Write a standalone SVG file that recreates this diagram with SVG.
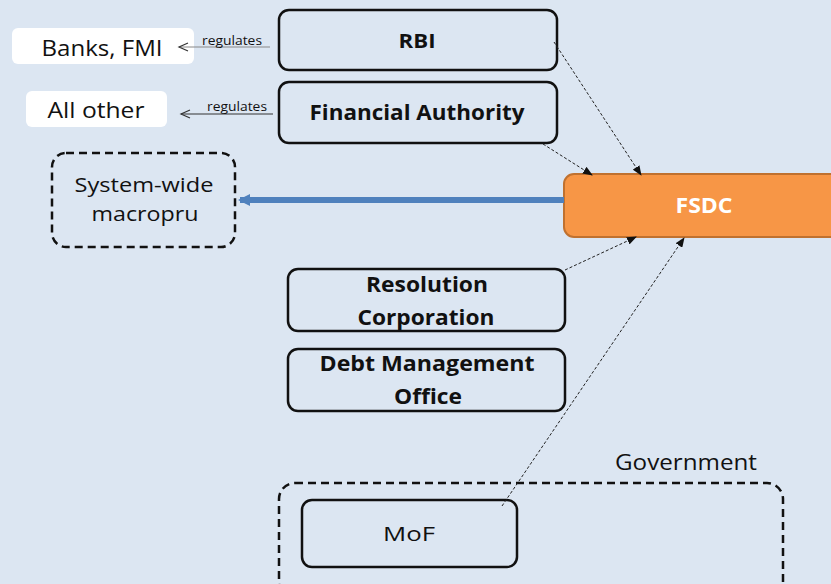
<svg xmlns="http://www.w3.org/2000/svg" width="831" height="584" viewBox="0 0 831 584">
<defs>
<style>
.t{font-family:"Open Sans","Liberation Sans",sans-serif;fill:#111;text-anchor:middle}
.b{font-weight:bold}
.box{fill:none;stroke:#111;stroke-width:2.5}
.dash{fill:none;stroke:#111;stroke-width:2.5;stroke-dasharray:8 5}
.lbl{fill:#fff}
.dl{fill:none;stroke:#222;stroke-width:1;stroke-dasharray:3 2}
</style>
<marker id="ah" markerWidth="10" markerHeight="8" refX="9" refY="4" orient="auto" markerUnits="userSpaceOnUse">
<path d="M0,0 L10,4 L0,8 Z" fill="#111"/>
</marker>
<marker id="open" markerWidth="12" markerHeight="10" refX="10" refY="5" orient="auto" markerUnits="userSpaceOnUse">
<path d="M1,1 L10,5 L1,9" fill="none" stroke="#333" stroke-width="1.2"/>
</marker>
<marker id="blue" markerWidth="14" markerHeight="14" refX="10" refY="7" orient="auto" markerUnits="userSpaceOnUse">
<path d="M0,1 L12,7 L0,13 Z" fill="#4f81bd"/>
</marker>
</defs>
<rect width="831" height="584" fill="#dce6f2"/>

<g id="banks">
<rect x="12" y="28" width="182" height="36" rx="6" class="lbl"/>
<text x="102" y="56" class="t" font-size="21" textLength="121" lengthAdjust="spacingAndGlyphs">Banks, FMI</text>
</g>
<g id="allother">
<rect x="26" y="91" width="141" height="36" rx="6" class="lbl"/>
<text x="96" y="118" class="t" font-size="21" textLength="97" lengthAdjust="spacingAndGlyphs">All other</text>
</g>
<g id="rbi">
<rect x="279" y="10" width="278" height="60" rx="10" class="box"/>
<text x="417" y="48" class="t b" font-size="20" textLength="37" lengthAdjust="spacingAndGlyphs">RBI</text>
</g>
<g id="fa">
<rect x="279" y="82" width="278" height="61" rx="10" class="box"/>
<text x="417" y="120" class="t b" font-size="21" textLength="215" lengthAdjust="spacingAndGlyphs">Financial Authority</text>
</g>
<g id="macropru">
<rect x="52" y="153" width="183" height="94" rx="14" fill="#fff" class="dash"/>
<text x="144" y="192" class="t" font-size="20" textLength="139" lengthAdjust="spacingAndGlyphs">System-wide</text>
<text x="145" y="221" class="t" font-size="20" textLength="107" lengthAdjust="spacingAndGlyphs">macropru</text>
</g>
<g id="fsdc">
<rect x="564" y="174" width="280" height="63" rx="10" fill="#f79646" stroke="#c0712f" stroke-width="2"/>
<text x="704" y="213" class="t b" font-size="21" style="fill:#fff" textLength="57" lengthAdjust="spacingAndGlyphs">FSDC</text>
</g>
<g id="resolution">
<rect x="288" y="269" width="277" height="62" rx="10" class="box"/>
<text x="427" y="292" class="t b" font-size="21" textLength="122" lengthAdjust="spacingAndGlyphs">Resolution</text>
<text x="426" y="325" class="t b" font-size="21" textLength="137" lengthAdjust="spacingAndGlyphs">Corporation</text>
</g>
<g id="dmo">
<rect x="288" y="349" width="277" height="62" rx="10" class="box"/>
<text x="427" y="371" class="t b" font-size="21" textLength="215" lengthAdjust="spacingAndGlyphs">Debt Management</text>
<text x="428" y="404" class="t b" font-size="21" textLength="68" lengthAdjust="spacingAndGlyphs">Office</text>
</g>
<g id="government">
<text x="686" y="470" class="t" font-size="21" textLength="142" lengthAdjust="spacingAndGlyphs">Government</text>
<rect x="279" y="483" width="504" height="115" rx="16" class="dash"/>
</g>
<g id="mof">
<rect x="302" y="500" width="215" height="67" rx="10" class="box"/>
<text x="409" y="541" class="t" font-size="20" textLength="52" lengthAdjust="spacingAndGlyphs">MoF</text>
</g>

<g id="connectors">
<line x1="270" y1="47" x2="179" y2="47" stroke="#888" stroke-width="1" marker-end="url(#open)"/>
<text x="232" y="45" class="t" font-size="12" textLength="60" lengthAdjust="spacingAndGlyphs">regulates</text>
<line x1="273" y1="114" x2="181" y2="114" stroke="#333" stroke-width="1" marker-end="url(#open)"/>
<text x="237" y="111" class="t" font-size="12" textLength="60" lengthAdjust="spacingAndGlyphs">regulates</text>
<line x1="564" y1="200" x2="240" y2="200" stroke="#4f81bd" stroke-width="6" marker-end="url(#blue)"/>
<line x1="554" y1="42" x2="641" y2="175" class="dl" marker-end="url(#ah)"/>
<line x1="543" y1="144" x2="592" y2="175" class="dl" marker-end="url(#ah)"/>
<line x1="565" y1="270" x2="636" y2="237" class="dl" marker-end="url(#ah)"/>
<line x1="502" y1="506" x2="684" y2="238" class="dl" marker-end="url(#ah)"/>
</g>
</svg>
